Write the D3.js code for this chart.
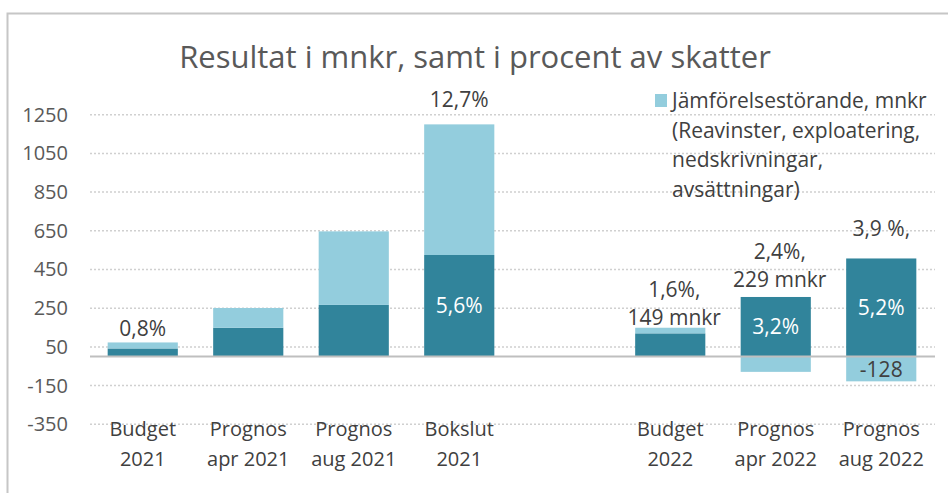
<!DOCTYPE html>
<html>
<head>
<meta charset="utf-8">
<script src="https://cdn.jsdelivr.net/npm/d3@7"></script>
<style>
  body { margin: 0; background: #fff; }
  text { font-family: "Open Sans", sans-serif; }
</style>
</head>
<body>
<div id="chart"></div>
<script>
// categories (one empty slot between 2021 and 2022)
let categories = [
  ["Budget", "2021"], ["Prognos", "apr 2021"], ["Prognos", "aug 2021"], ["Bokslut", "2021"],
  ["", ""],
  ["Budget", "2022"], ["Prognos", "apr 2022"], ["Prognos", "aug 2022"]
]

// resultat exkl. jämförelsestörande (dark) and jämförelsestörande (light), mnkr
let resultat = [42, 149, 267, 525, 0, 120, 308, 507]
let jamforelse = [31, 102, 380, 675, 0, 29, -79, -128]

let topLabels = [["0,8%"], [], [], ["12,7%"], [], ["1,6%,", "149 mnkr"], ["2,4%,", "229 mnkr"], ["3,9 %,"]]
let innerLabels = ["", "", "", "5,6%", "", "", "3,2%", "5,2%"]
let negLabels = ["", "", "", "", "", "", "", "-128"]

let yTicks = [-350, -150, 50, 250, 450, 650, 850, 1050, 1250]

let legendLines = ["Jämförelsestörande, mnkr", "(Reavinster, exploatering,", "nedskrivningar,", "avsättningar)"]

let width = 948, height = 493
let dark = "#31849b", light = "#93cddd"

let svg = d3.select("#chart").append("svg")
    .attr("width", width)
    .attr("height", height)

// chart frame
svg.append("rect")
    .attr("x", 7.5).attr("y", 13.5)
    .attr("width", 960).attr("height", 500)
    .attr("fill", "none")
    .attr("stroke", "#c6c6c6")
    .attr("stroke-width", 2)

svg.append("text")
    .attr("x", 475).attr("y", 68)
    .attr("text-anchor", "middle")
    .attr("font-size", 31)
    .attr("fill", "#595959")
    .text("Resultat i mnkr, samt i procent av skatter")

let x = d3.scaleBand()
    .domain(d3.range(categories.length))
    .range([90, 934])
    .paddingInner(0.335)
    .paddingOuter(0.1675)

let y = d3.scaleLinear().domain([-350, 1250]).range([424.3, 114.7])

// gridlines
svg.append("g").selectAll("line")
    .data(yTicks)
  .enter().append("line")
    .attr("x1", 90).attr("x2", 935)
    .attr("y1", d => y(d)).attr("y2", d => y(d))
    .attr("stroke", "#d0d0d0")
    .attr("stroke-width", 1.5)
    .attr("stroke-dasharray", "2,2")

let yAxis = svg.append("g")
    .attr("transform", "translate(68,0)")
    .call(d3.axisLeft(y).tickValues(yTicks).tickSize(0).tickPadding(0)
      .tickFormat(d => String(d)))
yAxis.select(".domain").remove()
yAxis.selectAll("text")
    .attr("font-size", 20)
    .attr("fill", "#595959")
    .style("font-family", "'Open Sans', sans-serif")

// stacked bars
let rows = categories.map((c, i) => ({ i: i, res: resultat[i], jam: jamforelse[i] }))
let stack = d3.stack().keys(["res", "jam"]).offset(d3.stackOffsetDiverging)
let series = stack(rows)
let colors = { res: dark, jam: light }

svg.append("g").selectAll("g")
    .data(series)
  .enter().append("g")
    .attr("fill", d => colors[d.key])
  .selectAll("rect")
    .data(d => d)
  .enter().append("rect")
    .attr("x", d => x(d.data.i))
    .attr("width", x.bandwidth())
    .attr("y", d => y(Math.max(d[0], d[1])))
    .attr("height", d => Math.abs(y(d[0]) - y(d[1])))

// zero line
svg.append("line")
    .attr("x1", 90).attr("x2", 935)
    .attr("y1", y(0)).attr("y2", y(0))
    .attr("stroke", "#bfbfbf")
    .attr("stroke-width", 2)

// category labels
let cat = svg.append("g").selectAll("text")
    .data(categories)
  .enter().append("text")
    .attr("text-anchor", "middle")
    .attr("font-size", 20)
    .attr("fill", "#404040")
cat.each(function(d, i) {
  let t = d3.select(this)
  d.forEach((line, k) => {
    t.append("tspan")
      .attr("x", x(i) + x.bandwidth() / 2)
      .attr("y", 436 + k * 30)
      .text(line)
  })
})

// labels above bars (manually nudged like in the original)
let nudge = [6, 0, 0, 17, 0, 3, 10, 22]
topLabels.forEach((lines, i) => {
  let top = y(Math.max(resultat[i], resultat[i] + Math.max(jamforelse[i], 0)))
  lines.forEach((line, k) => {
    svg.append("text")
      .attr("x", x(i) + x.bandwidth() / 2 + (lines.length > 1 ? 4 : 0))
      .attr("y", top - nudge[i] - (lines.length - 1 - k) * 28)
      .attr("text-anchor", "middle")
      .attr("font-size", 21)
      .attr("fill", "#404040")
      .text(line)
  })
})

// labels inside dark segment
innerLabels.forEach((t, i) => {
  if (!t) return
  svg.append("text")
    .attr("x", x(i) + x.bandwidth() / 2)
    .attr("y", (y(0) + y(resultat[i])) / 2)
    .attr("dy", "0.35em")
    .attr("text-anchor", "middle")
    .attr("font-size", 21)
    .attr("fill", "#ffffff")
    .text(t)
})

// labels inside negative light segment
negLabels.forEach((t, i) => {
  if (!t) return
  svg.append("text")
    .attr("x", x(i) + x.bandwidth() / 2)
    .attr("y", (y(0) + y(jamforelse[i])) / 2)
    .attr("dy", "0.4em")
    .attr("text-anchor", "middle")
    .attr("font-size", 21)
    .attr("fill", "#404040")
    .text(t)
})

// legend
svg.append("rect")
    .attr("x", 655).attr("y", 94)
    .attr("width", 12).attr("height", 13)
    .attr("fill", light)
legendLines.forEach((line, k) => {
  svg.append("text")
    .attr("x", 672).attr("y", 108 + k * 29.5)
    .attr("font-size", 21)
    .attr("fill", "#404040")
    .text(line)
})
</script>
</body>
</html>
